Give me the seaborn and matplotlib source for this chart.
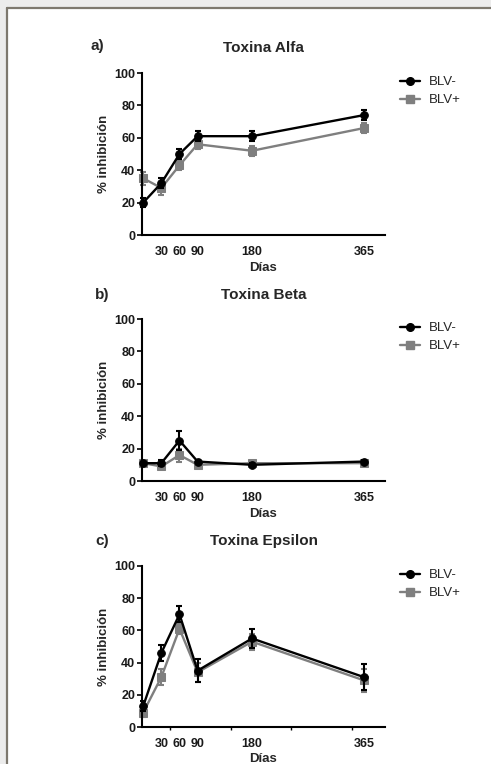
import matplotlib
matplotlib.use("Agg")
import matplotlib.pyplot as plt
import seaborn as sns
import pandas as pd
from matplotlib.patches import Rectangle
from matplotlib.lines import Line2D

dias = [0, 30, 60, 90, 180, 365]
tick_dias = [30, 60, 90, 180, 365]
grupos = ["BLV-", "BLV+"]

alfa_neg = [20, 32, 50, 61, 61, 74]
alfa_neg_err = [3, 3, 3, 3, 3, 3]
alfa_pos = [35, 29, 43, 56, 52, 66]
alfa_pos_err = [4, 4, 3, 3, 3, 3]

beta_neg = [11, 11, 25, 12, 10, 12]
beta_neg_err = [1, 2, 6, 1, 1, 1]
beta_pos = [11, 9, 16, 10, 11, 11]
beta_pos_err = [1, 1, 4, 1, 1, 1]

eps_neg = [13, 46, 70, 35, 55, 31]
eps_neg_err = [3, 5, 5, 7, 6, 8]
eps_pos = [9, 31, 61, 34, 53, 29]
eps_pos_err = [3, 5, 3, 6, 5, 7]

paneles = [
    ("a)", "Toxina Alfa", alfa_neg, alfa_neg_err, alfa_pos, alfa_pos_err),
    ("b)", "Toxina Beta", beta_neg, beta_neg_err, beta_pos, beta_pos_err),
    ("c)", "Toxina Epsilon", eps_neg, eps_neg_err, eps_pos, eps_pos_err),
]

sns.set_theme(style="ticks")
plt.rcParams["font.family"] = ["Liberation Sans", "DejaVu Sans"]

W, H = 491, 764
fig = plt.figure(figsize=(W / 100, H / 100), dpi=100)
fig.patch.set_facecolor("#ececec")
# white page with frame
fig.patches.append(Rectangle((7 / W, 0), 1, 1 - 9 / H, transform=fig.transFigure,
                             facecolor="white", edgecolor="none", zorder=-10))
fig.lines.append(Line2D([7 / W, 1], [1 - 8 / H, 1 - 8 / H], transform=fig.transFigure,
                        color="#7d786e", lw=1.6))
fig.lines.append(Line2D([7 / W, 7 / W], [0, 1 - 8 / H], transform=fig.transFigure,
                        color="#7d786e", lw=1.6))

colors = {"BLV-": "black", "BLV+": "#7f7f7f"}
markers = {"BLV-": "o", "BLV+": "s"}

ax_left, ax_right = 142, 385
tops = [73, 319, 566]
bottoms = [235, 481, 727]
title_y = [48, 295, 541]
lab_xy = [(97, 46), (102, 295), (102, 541)]

for i, (lab, title, yneg, eneg, ypos, epos) in enumerate(paneles):
    top, bot = tops[i], bottoms[i]
    ax = fig.add_axes([ax_left / W, 1 - bot / H, (ax_right - ax_left) / W, (bot - top) / H])
    ax.set_facecolor("white")
    df = pd.DataFrame({
        "Días": dias * 2,
        "inh": yneg + ypos,
        "grupo": ["BLV-"] * len(dias) + ["BLV+"] * len(dias),
    })
    errs = {"BLV-": eneg, "BLV+": epos}
    for g, z in (("BLV+", 2), ("BLV-", 3)):
        sub = df[df["grupo"] == g]
        ax.errorbar(sub["Días"], sub["inh"], yerr=errs[g], fmt="none",
                    ecolor=colors[g], elinewidth=1.5, capsize=2.5, capthick=1.5,
                    zorder=z, clip_on=False)
        sns.lineplot(data=sub, x="Días", y="inh", color=colors[g], marker=markers[g],
                     markersize=5.5, markeredgecolor=colors[g], linewidth=1.7,
                     ax=ax, zorder=z, legend=False, clip_on=False)
    ax.set_xlim(-2, 400)
    ax.set_ylim(0, 100)
    ax.set_yticks([0, 20, 40, 60, 80, 100])
    ax.set_xticks(tick_dias)
    ax.set_xticklabels([str(t) for t in tick_dias])
    if i == 2:
        ax.set_xticks([45, 145, 245, 345], minor=True)
        ax.tick_params(axis="x", which="minor", length=2.5, width=1.0, color="black")
    ax.tick_params(axis="x", which="major", length=0, pad=8, labelsize=9)
    ax.tick_params(axis="y", length=3.5, width=1.4, pad=1.5, labelsize=9)
    for t in ax.get_xticklabels() + ax.get_yticklabels():
        t.set_fontweight("bold")
        t.set_color("#1a1a1a")
    for s in ("top", "right"):
        ax.spines[s].set_visible(False)
    for s in ("left", "bottom"):
        ax.spines[s].set_linewidth(1.5)
        ax.spines[s].set_color("black")
    ax.set_xlabel("Días", fontsize=9.5, fontweight="bold", labelpad=3 if i < 2 else 2)
    ax.set_ylabel("% inhibición", fontsize=9.5, fontweight="bold", labelpad=3)
    ax.text(0.5, 1 + (top - title_y[i]) / (bot - top),
            title, transform=ax.transAxes, ha="center", va="center",
            fontsize=11, fontweight="bold")
    lx, ly = lab_xy[i]
    fig.text(lx / W, 1 - ly / H, lab, ha="center", va="center",
             fontsize=11, fontweight="bold")
    handles = [Line2D([], [], color=colors[g], marker=markers[g], markersize=5.5, lw=1.7)
               for g in grupos]
    ax.legend(handles, grupos, loc="upper left",
              bbox_to_anchor=((400 - ax_left) / (ax_right - ax_left), 1 - 3 / (bot - top)),
              frameon=False, fontsize=9.5, handlelength=1.5, handletextpad=0.7,
              labelspacing=0.45, borderpad=0, borderaxespad=0)

fig.savefig("out.png", dpi=100, facecolor=fig.get_facecolor())
